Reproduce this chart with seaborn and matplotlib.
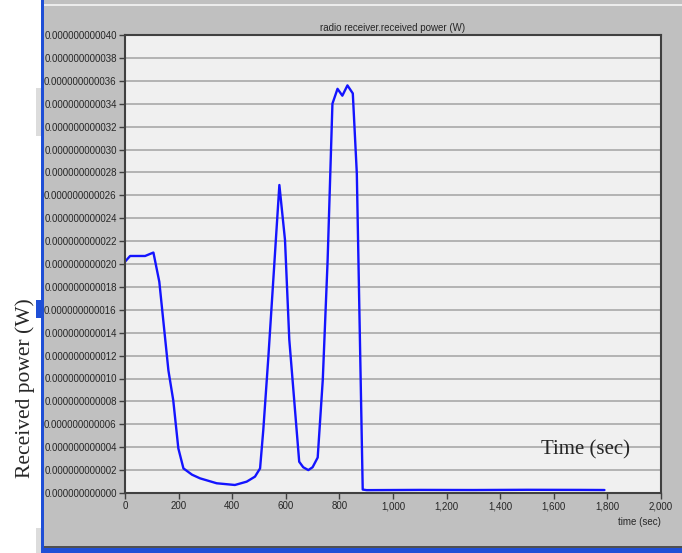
import pandas as pd
import matplotlib
matplotlib.use("Agg")
import matplotlib.pyplot as plt
from matplotlib.patches import Rectangle
from matplotlib.ticker import FuncFormatter
import seaborn as sns

# data (time in s, power in pW)
time_s = [0, 19, 75, 106, 128, 162, 180, 199, 218, 250, 280, 342, 410, 454, 485,
          504, 516, 535, 576, 597, 613, 650, 665, 684, 700, 719, 738, 756, 774,
          793, 811, 830, 850, 865, 887, 902, 1100, 1300, 1500, 1700, 1789]
power_pw = [20.2, 20.7, 20.7, 21.0, 18.45, 10.7, 8.1, 3.9, 2.15, 1.6, 1.28, 0.85,
            0.7, 0.99, 1.43, 2.15, 5.5, 11.9, 26.9, 22.1, 13.4, 2.73, 2.25, 2.0,
            2.25, 3.1, 9.9, 20.3, 34.0, 35.3, 34.7, 35.6, 34.9, 27.9, 0.3, 0.25,
            0.27, 0.26, 0.28, 0.27, 0.26]
x_ticks = list(range(0, 2001, 200))
y_ticks_pw = list(range(0, 41, 2))

df = pd.DataFrame({"time": time_s, "power": [p * 1e-12 for p in power_pw]})

sns.set_style("white")
plt.rcParams["font.family"] = ["Liberation Sans", "DejaVu Sans"]

fig = plt.figure(figsize=(6.82, 5.53), dpi=100, facecolor="white")


def frame_box(x, y, w, h, color):
    # rectangles in pixel units of the 682x553 window, drawn behind the axes
    fig.patches.append(Rectangle((x / 682, 1 - (y + h) / 553), w / 682, h / 553,
                                 transform=fig.transFigure, facecolor=color,
                                 edgecolor="none", zorder=-5))


frame_box(44, 0, 638, 550, "#c0c0c0")
frame_box(44, 4, 638, 2, "#ececec")
frame_box(44, 546, 638, 2, "#505050")
frame_box(36, 88, 5, 48, "#dcdcdc")
frame_box(36, 528, 5, 25, "#dcdcdc")
frame_box(41, 548, 641, 5, "#1f4fd6")
frame_box(41, 0, 3, 553, "#1f4fd6")
frame_box(36, 300, 5, 18, "#1f4fd6")

ax = fig.add_axes([125 / 682, 1 - 493 / 553, 536 / 682, 458 / 553])
ax.set_zorder(2)
ax.set_facecolor("#f0f0f0")

sns.lineplot(data=df, x="time", y="power", ax=ax, color="#1414ff", linewidth=1.7)

ax.set_xlim(0, 2000)
ax.set_ylim(0, 40e-12)
ax.set_xticks(x_ticks)
ax.set_yticks([v * 1e-12 for v in y_ticks_pw])
ax.xaxis.set_major_formatter(FuncFormatter(lambda v, p: f"{int(v):,}"))
ax.yaxis.set_major_formatter(FuncFormatter(lambda v, p: f"{v:.12f}"))
ax.yaxis.grid(True, color="#a8a8a8", linewidth=1.2)
ax.xaxis.grid(False)
ax.set_axisbelow(True)
for s in ax.spines.values():
    s.set_color("#404040")
    s.set_linewidth(1.5)
ax.tick_params(axis="both", which="major", direction="out", length=4, width=1,
               color="#404040", labelsize=7, pad=2, left=True, bottom=True)

ax.set_title("radio receiver.received power (W)", fontsize=7, pad=3)
ax.set_xlabel("time (sec)", fontsize=7, loc="right", labelpad=4)
ax.set_ylabel("")

ax.text(0.86, 0.095, "Time (sec)", transform=ax.transAxes, ha="center", va="center",
        fontsize=15, family=["Liberation Serif", "DejaVu Serif"])
fig.text(25 / 682, 1 - 388 / 553, "Received power (W)", rotation=90, ha="center",
         va="center", fontsize=15.5, family=["Liberation Serif", "DejaVu Serif"])

fig.savefig("out.png", dpi=100, facecolor=fig.get_facecolor())
